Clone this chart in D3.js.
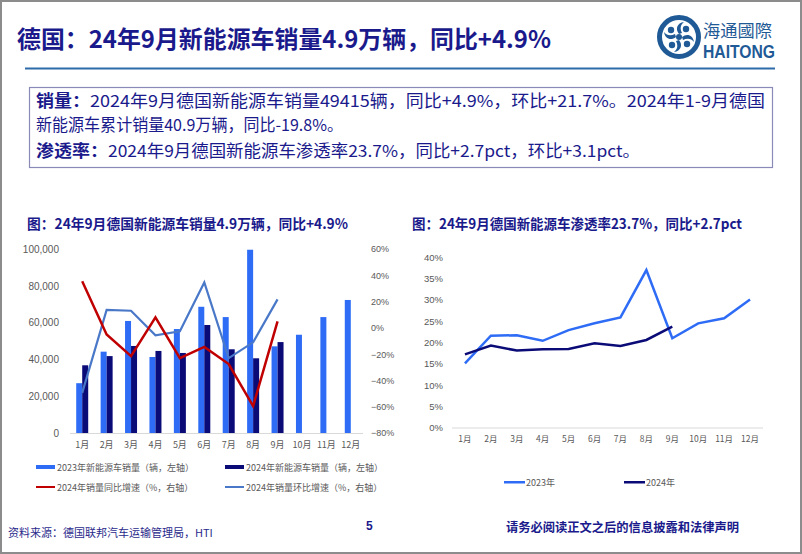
<!DOCTYPE html>
<html><head><meta charset="utf-8">
<script src="https://cdn.jsdelivr.net/npm/d3@7"></script>
<style>
html,body{margin:0;padding:0;background:#fff;}
svg{display:block;}
text{font-family:"Noto Sans CJK SC","Noto Sans",sans-serif;}
.num{font-family:"Liberation Sans",Arial,sans-serif;}
</style></head>
<body>
<script>
// ---------- data ----------
const months = ["1月","2月","3月","4月","5月","6月","7月","8月","9月","10月","11月","12月"];
const sales2023 = [27066, 44200, 60900, 41300, 56500, 68600, 63000, 99600, 47098, 53400, 63000, 72300];
const sales2024 = [36800, 41800, 47300, 44600, 43500, 58700, 45500, 40604, 49415];
const yoy2024 = [0.355, -0.05, -0.215, 0.08, -0.23, -0.145, -0.275, -0.595, 0.049];
const mom2024 = [-0.495, 0.136, 0.13, -0.057, -0.026, 0.345, -0.23, -0.11, 0.217];
const pen2023 = [0.151, 0.216, 0.217, 0.204, 0.229, 0.245, 0.259, 0.370, 0.210, 0.245, 0.257, 0.301];
const pen2024 = [0.172, 0.193, 0.181, 0.184, 0.185, 0.198, 0.192, 0.206, 0.237];
const leftTicks = [0, 20000, 40000, 60000, 80000, 100000];
const rightTicks = [-0.8, -0.6, -0.4, -0.2, 0, 0.2, 0.4, 0.6];
const penTicks = [0, 0.05, 0.10, 0.15, 0.20, 0.25, 0.30, 0.35, 0.40];

const C23 = "#2e6cf6", C24 = "#0b0b78", RED = "#c00000", MOM = "#4a78c8";
const NAVY = "#1a1a8c", GRAY = "#595959";

const svg = d3.select("body").append("svg").attr("width", 802).attr("height", 554);

// page border
svg.append("rect").attr("x",1).attr("y",1).attr("width",800).attr("height",552)
  .attr("fill","none").attr("stroke","#8c8c8c").attr("stroke-width",2);

// ---------- header ----------
svg.append("text").attr("x",17).attr("y",48).attr("font-size",24).attr("font-weight","bold")
  .attr("fill",NAVY).attr("textLength",534).attr("lengthAdjust","spacingAndGlyphs")
  .text("德国：24年9月新能源车销量4.9万辆，同比+4.9%");
svg.append("line").attr("x1",25).attr("x2",775).attr("y1",68.5).attr("y2",68.5)
  .attr("stroke","#2e6aa8").attr("stroke-width",2);

// logo
const LG = "#1f5a96";
const lg = svg.append("g").attr("transform","translate(679,37)");
lg.append("circle").attr("r",19.5).attr("fill","none").attr("stroke",LG).attr("stroke-width",5);
[0,90,180,270].forEach(a=>{
  lg.append("path").attr("transform",`rotate(${a})`)
    .attr("d","M0,-3 C-4,-8 -2,-14 5,-15 C1,-12 1,-8 3,-4 Z").attr("fill",LG);
  lg.append("circle").attr("transform",`rotate(${a})`).attr("cx",7).attr("cy",-8).attr("r",3.2).attr("fill",LG);
});
lg.append("circle").attr("r",3).attr("fill",LG);
svg.append("text").attr("x",703).attr("y",37).attr("font-size",17).attr("fill",LG)
  .attr("textLength",69).attr("lengthAdjust","spacingAndGlyphs").text("海通國際");
svg.append("text").attr("class","num").attr("x",703).attr("y",58).attr("font-size",18).attr("font-weight","bold")
  .attr("fill",LG).attr("textLength",72).attr("lengthAdjust","spacingAndGlyphs").text("HAITONG");

// ---------- text box ----------
svg.append("rect").attr("x",29.5).attr("y",87.5).attr("width",743).attr("height",80)
  .attr("fill","none").attr("stroke","#8a8ab8").attr("stroke-width",1.2);
const FS = 16.5;
function boxLine(y, bold, rest, len){
  let x = 36;
  if(bold){
    svg.append("text").attr("x",x).attr("y",y).attr("font-size",FS).attr("font-weight","bold")
      .attr("fill",NAVY).attr("textLength",bold.length*18).attr("lengthAdjust","spacingAndGlyphs").text(bold);
    const w = bold.length*18;
    x += w; len -= w;
  }
  svg.append("text").attr("x",x).attr("y",y).attr("font-size",FS).attr("fill",NAVY)
    .attr("textLength",len).attr("lengthAdjust","spacingAndGlyphs").text(rest);
}
boxLine(107,"销量：","2024年9月德国新能源车销量49415辆，同比+4.9%，环比+21.7%。2024年1-9月德国",729);
boxLine(131,null,"新能源车累计销量40.9万辆，同比-19.8%。",307);
boxLine(157,"渗透率：","2024年9月德国新能源车渗透率23.7%，同比+2.7pct，环比+3.1pct。",604);

// ---------- left chart ----------
svg.append("text").attr("x",27).attr("y",229).attr("font-size",14).attr("font-weight","bold")
  .attr("fill",NAVY).attr("textLength",321).attr("lengthAdjust","spacingAndGlyphs")
  .text("图：24年9月德国新能源车销量4.9万辆，同比+4.9%");

const xL = d3.scaleBand().domain(months).range([70,363]);
const yL = d3.scaleLinear().domain([0,100000]).range([433,249]);
const yR = d3.scaleLinear().domain([-0.8,0.6]).range([433,249]);

const axL = svg.append("g").attr("transform","translate(62,0)")
  .call(d3.axisLeft(yL).tickValues(leftTicks).tickSize(0).tickFormat(d3.format(",")));
axL.select(".domain").remove();
axL.selectAll("text").attr("class","num").attr("font-size",10).attr("fill",GRAY).attr("x",-3);

const axR = svg.append("g").attr("transform","translate(370,0)")
  .call(d3.axisRight(yR).tickValues(rightTicks).tickSize(0).tickFormat(d3.format(".0%")));
axR.select(".domain").remove();
axR.selectAll("text").attr("class","num").attr("font-size",9).attr("fill",GRAY).attr("x",1);

svg.append("line").attr("x1",70).attr("x2",363).attr("y1",433.5).attr("y2",433.5)
  .attr("stroke","#d9d9d9").attr("stroke-width",1);
const axB = svg.append("g").attr("transform","translate(0,433)")
  .call(d3.axisBottom(xL).tickSize(0));
axB.select(".domain").remove();
axB.selectAll("text").attr("font-size",9).attr("fill",GRAY).attr("dy","1.3em");

const cx = m => xL(m) + xL.bandwidth()/2;
svg.append("g").selectAll("rect").data(sales2023).join("rect")
  .attr("x",(d,i)=>cx(months[i])-6).attr("width",6)
  .attr("y",d=>yL(d)).attr("height",d=>yL(0)-yL(d)).attr("fill",C23);
svg.append("g").selectAll("rect").data(sales2024).join("rect")
  .attr("x",(d,i)=>cx(months[i])).attr("width",6)
  .attr("y",d=>yL(d)).attr("height",d=>yL(0)-yL(d)).attr("fill",C24);

const lineL = d3.line().x((d,i)=>cx(months[i])).y(d=>yR(d));
svg.append("path").datum(mom2024).attr("d",lineL).attr("fill","none")
  .attr("stroke",MOM).attr("stroke-width",2.2).attr("stroke-linejoin","miter");
svg.append("path").datum(yoy2024).attr("d",lineL).attr("fill","none")
  .attr("stroke",RED).attr("stroke-width",2.5).attr("stroke-linejoin","miter");

// left legend
const legL = [
  {x:36,y:467,type:"bar",c:C23,t:"2023年新能源车销量（辆，左轴）"},
  {x:225,y:467,type:"bar",c:C24,t:"2024年新能源车销量（辆，左轴）"},
  {x:36,y:487,type:"line",c:RED,t:"2024年销量同比增速（%，右轴）"},
  {x:225,y:487,type:"line",c:MOM,t:"2024年销量环比增速（%，右轴）"}
];
legL.forEach(l=>{
  svg.append("rect").attr("x",l.x).attr("y",l.y-(l.type==="bar"?2:1)).attr("width",19)
    .attr("height",l.type==="bar"?4:2).attr("fill",l.c);
  svg.append("text").attr("x",l.x+21).attr("y",l.y+3.5).attr("font-size",9).attr("fill",GRAY).text(l.t);
});

// ---------- right chart ----------
svg.append("text").attr("x",412).attr("y",229).attr("font-size",14).attr("font-weight","bold")
  .attr("fill",NAVY).attr("textLength",330).attr("lengthAdjust","spacingAndGlyphs")
  .text("图：24年9月德国新能源车渗透率23.7%，同比+2.7pct");

const xP = d3.scaleBand().domain(months).range([452,763]);
const yP = d3.scaleLinear().domain([0,0.4]).range([427.7,257.3]);
const axP = svg.append("g").attr("transform","translate(444,0)")
  .call(d3.axisLeft(yP).tickValues(penTicks).tickSize(0).tickFormat(d3.format(".0%")));
axP.select(".domain").remove();
axP.selectAll("text").attr("class","num").attr("font-size",9.5).attr("fill",GRAY).attr("x",-1);
svg.append("line").attr("x1",452).attr("x2",763).attr("y1",428).attr("y2",428)
  .attr("stroke","#d9d9d9").attr("stroke-width",1.2);
const axPB = svg.append("g").attr("transform","translate(0,428)")
  .call(d3.axisBottom(xP).tickSize(0));
axPB.select(".domain").remove();
axPB.selectAll("text").attr("font-size",8.5).attr("fill",GRAY).attr("dy","1.3em");

const cxP = m => xP(m) + xP.bandwidth()/2;
const lineP = d3.line().x((d,i)=>cxP(months[i])).y(d=>yP(d));
svg.append("path").datum(pen2023).attr("d",lineP).attr("fill","none")
  .attr("stroke",C23).attr("stroke-width",2.5);
svg.append("path").datum(pen2024).attr("d",lineP).attr("fill","none")
  .attr("stroke",C24).attr("stroke-width",2.5);

[{x:504,c:C23,t:"2023年"},{x:624,c:C24,t:"2024年"}].forEach(l=>{
  svg.append("rect").attr("x",l.x).attr("y",481).attr("width",21).attr("height",2.5).attr("fill",l.c);
  svg.append("text").attr("x",l.x+22).attr("y",485.5).attr("font-size",9).attr("fill",GRAY).text(l.t);
});

// ---------- footer ----------
svg.append("text").attr("x",506).attr("y",532).attr("font-size",12.5).attr("font-weight","bold")
  .attr("fill",NAVY).attr("textLength",233).attr("lengthAdjust","spacingAndGlyphs")
  .text("请务必阅读正文之后的信息披露和法律声明");
svg.append("text").attr("x",8).attr("y",537).attr("font-size",11).attr("fill","#2a2a8c")
  .text("资料来源：德国联邦汽车运输管理局，HTI");
svg.append("text").attr("class","num").attr("x",366).attr("y",530).attr("font-size",12)
  .attr("font-weight","bold").attr("fill",NAVY).text("5");
</script>
</body></html>
